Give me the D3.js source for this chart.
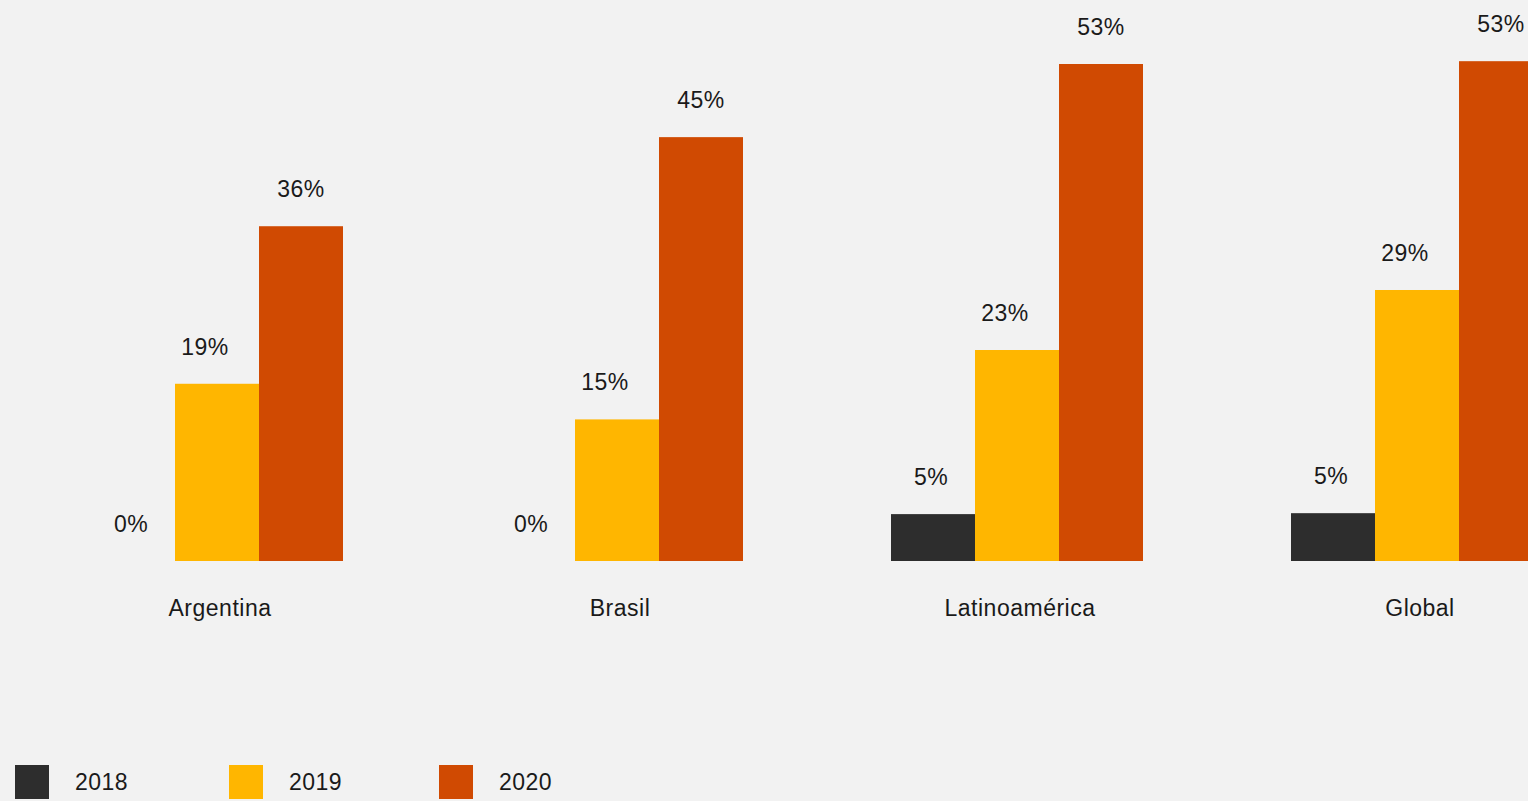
<!DOCTYPE html>
<html>
<head>
<meta charset="utf-8">
<script src="https://cdn.jsdelivr.net/npm/d3@7"></script>
<style>
  html, body { margin: 0; padding: 0; background: #f2f2f2; }
  svg { display: block; }
  text { font-family: "Liberation Sans", Arial, Helvetica, sans-serif; fill: #1a1a1a; letter-spacing: 0.5px; }
</style>
</head>
<body>
<script>
// Data
var categories = ["Argentina", "Brasil", "Latinoamérica", "Global"];
var years      = ["2018", "2019", "2020"];
var v2018      = [0, 0, 5.0, 5.1];
var v2019      = [18.9, 15.1, 22.5, 28.9];
var v2020      = [35.7, 45.2, 53.0, 53.3];
var labels2018 = ["0%", "0%", "5%", "5%"];
var labels2019 = ["19%", "15%", "23%", "29%"];
var labels2020 = ["36%", "45%", "53%", "53%"];
var colors     = ["#2d2d2d", "#ffb600", "#d04a02"];

var W = 1528, H = 801;
var baseline = 561;
var labelShift = [-2, -12, 0]; // the 2019 labels sit left of their bars in the original

var series = [v2018, v2019, v2020];
var seriesLabels = [labels2018, labels2019, labels2020];

var svg = d3.select("body").append("svg")
    .attr("width", W)
    .attr("height", H);

svg.append("rect").attr("width", W).attr("height", H).attr("fill", "#f2f2f2");

var x0 = d3.scaleBand()
    .domain(categories)
    .range([91, 1543])
    .paddingInner(0.37)
    .paddingOuter(0);

var x1 = d3.scaleBand()
    .domain(years)
    .range([0, x0.bandwidth()])
    .padding(0);

var y = d3.scaleLinear()
    .domain([0, 53])
    .range([baseline, 64]);

// flatten to one record per bar
var rows = [];
categories.forEach(function(c, i) {
    years.forEach(function(yr, j) {
        rows.push({cat: c, year: yr, idx: j, value: series[j][i], label: seriesLabels[j][i]});
    });
});

var g = svg.append("g");

g.selectAll("rect.bar")
    .data(rows.filter(function(d) { return d.value > 0; }))
  .enter().append("rect")
    .attr("class", "bar")
    .attr("x", function(d) { return x0(d.cat) + x1(d.year); })
    .attr("width", x1.bandwidth())
    .attr("y", function(d) { return y(d.value); })
    .attr("height", function(d) { return baseline - y(d.value); })
    .attr("fill", function(d) { return colors[d.idx]; });

g.selectAll("text.val")
    .data(rows)
  .enter().append("text")
    .attr("class", "val")
    .attr("x", function(d) { return x0(d.cat) + x1(d.year) + x1.bandwidth() / 2 + labelShift[d.idx]; })
    .attr("y", function(d) { return y(d.value) - 29; })
    .attr("text-anchor", "middle")
    .style("font-size", "23px")
    .text(function(d) { return d.label; });

// category labels
g.selectAll("text.cat")
    .data(categories)
  .enter().append("text")
    .attr("class", "cat")
    .attr("x", function(d) { return x0(d) + x0.bandwidth() / 2 + 3; })
    .attr("y", 616)
    .attr("text-anchor", "middle")
    .style("font-size", "23px")
    .text(function(d) { return d; });

// legend
var legendX = [15, 229, 439];
var leg = svg.append("g").selectAll("g")
    .data(years)
  .enter().append("g")
    .attr("transform", function(d, i) { return "translate(" + legendX[i] + ",765)"; });

leg.append("rect")
    .attr("width", 34)
    .attr("height", 34)
    .attr("fill", function(d, i) { return colors[i]; });

leg.append("text")
    .attr("x", 60)
    .attr("y", 25)
    .style("font-size", "23px")
    .text(function(d) { return d; });
</script>
</body>
</html>
